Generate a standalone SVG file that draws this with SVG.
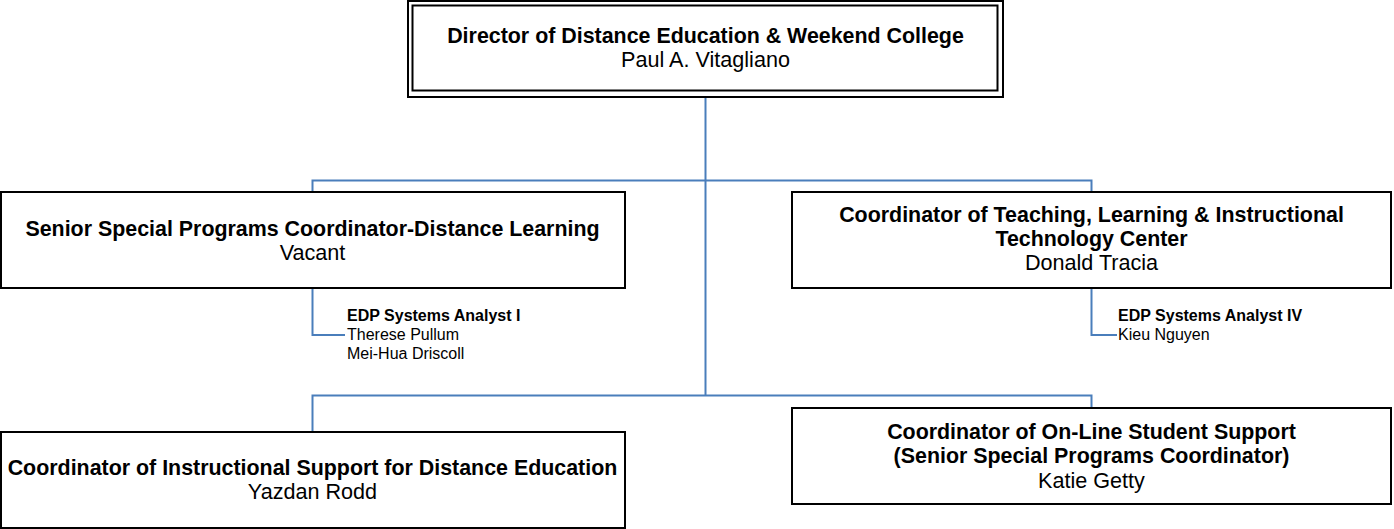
<svg xmlns="http://www.w3.org/2000/svg" width="1394" height="529" viewBox="0 0 1394 529">
<style>
.box{fill:#fff;stroke:#000;stroke-width:2}
.dbl{fill:none;stroke:#000;stroke-width:2}
.con{fill:none;stroke:#4a7ebb;stroke-width:2}
text{font-family:"Liberation Sans",Arial,sans-serif;fill:#000}
.t{font-size:21.4px;font-weight:bold;text-anchor:middle}
.n{font-size:21.6px;text-anchor:middle}
.st{font-size:16px;font-weight:bold}
.sn{font-size:16px}
</style>
<rect width="1394" height="529" fill="#fff"/>
<g id="connectors">
<path class="con" d="M705.5 97 V395.5"/>
<path class="con" d="M312.5 192 V180.5 H1091.5 V192"/>
<path class="con" d="M312.5 432 V395.5 H1091.5 V408"/>
<path class="con" d="M312.5 288 V335 H345"/>
<path class="con" d="M1091.5 288 V335 H1117"/>
</g>
<g id="director">
<rect x="408" y="1" width="595" height="96" class="box"/>
<rect x="412.5" y="5.5" width="585" height="85" class="dbl"/>
<text class="t" x="705.5" y="43">Director of Distance Education &amp; Weekend College</text>
<text class="n" x="705.5" y="67">Paul A. Vitagliano</text>
</g>
<g id="senior-special">
<rect x="1" y="192" width="624" height="96" class="box"/>
<text class="t" x="312.5" y="236">Senior Special Programs Coordinator-Distance Learning</text>
<text class="n" x="312.5" y="260">Vacant</text>
</g>
<g id="coord-teaching">
<rect x="792" y="192" width="599" height="96" class="box"/>
<text class="t" x="1091.5" y="222">Coordinator of Teaching, Learning &amp; Instructional</text>
<text class="t" x="1091.5" y="246">Technology Center</text>
<text class="n" x="1091.5" y="270">Donald Tracia</text>
</g>
<g id="edp1">
<text class="st" x="347" y="321">EDP Systems Analyst I</text>
<text class="sn" x="347" y="340">Therese Pullum</text>
<text class="sn" x="347" y="359">Mei-Hua Driscoll</text>
</g>
<g id="edp4">
<text class="st" x="1118" y="321">EDP Systems Analyst IV</text>
<text class="sn" x="1118" y="340">Kieu Nguyen</text>
</g>
<g id="coord-instructional">
<rect x="1" y="432" width="624" height="96" class="box"/>
<text class="t" x="312.5" y="475">Coordinator of Instructional Support for Distance Education</text>
<text class="n" x="312.5" y="499">Yazdan Rodd</text>
</g>
<g id="coord-online">
<rect x="792" y="408" width="599" height="96" class="box"/>
<text class="t" x="1091.5" y="439">Coordinator of On-Line Student Support</text>
<text class="t" x="1091.5" y="463">(Senior Special Programs Coordinator)</text>
<text class="n" x="1091.5" y="488">Katie Getty</text>
</g>
</svg>
